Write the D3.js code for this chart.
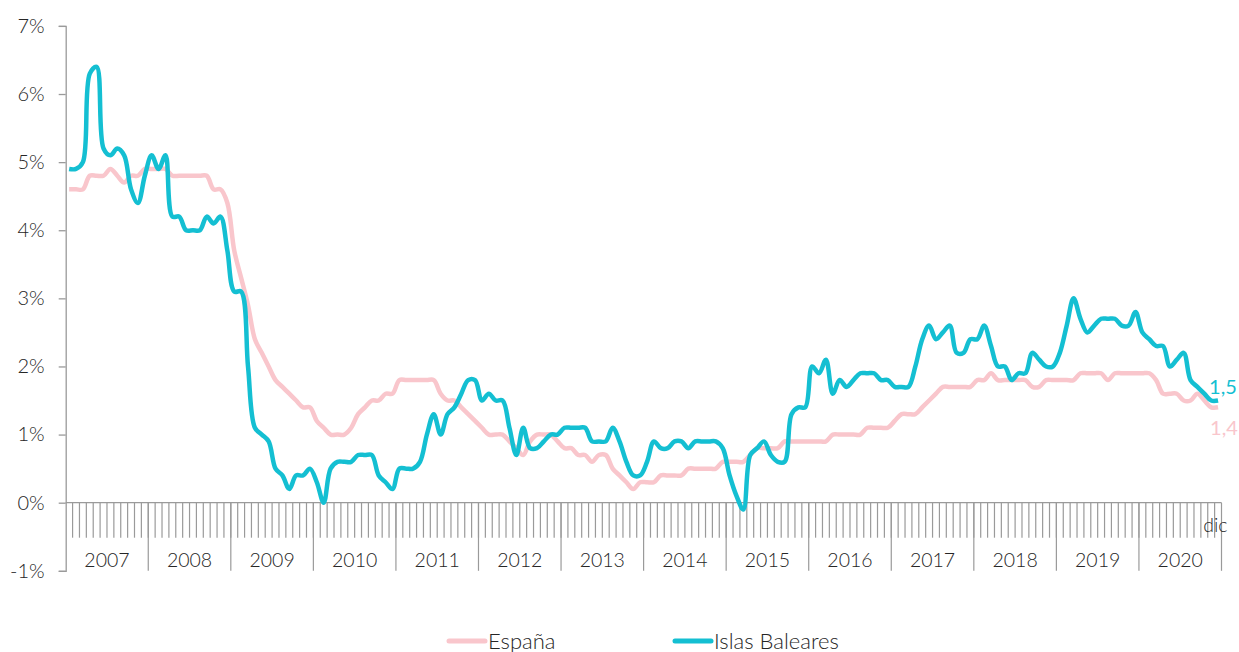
<!DOCTYPE html>
<html>
<head>
<meta charset="utf-8">
<script src="https://cdn.jsdelivr.net/npm/d3@7"></script>
<style>
  html, body { margin: 0; padding: 0; background: #fff; }
  svg { display: block; font-family: Lato, "Open Sans", sans-serif; font-weight: 300; }
</style>
</head>
<body>
<svg id="chart" width="1239" height="652"></svg>
<script>
const years = ["2007","2008","2009","2010","2011","2012","2013","2014","2015","2016","2017","2018","2019","2020"];
const yTicks = [-1, 0, 1, 2, 3, 4, 5, 6, 7];
const lastMonthLabel = "dic";
const seriesNames = ["España", "Islas Baleares"];
const endLabels = ["1,4", "1,5"];

const espana = [
  4.6,4.6,4.6,4.8,4.8,4.8,4.9,4.8,4.7,4.8,4.8,4.9,
  4.9,4.9,4.9,4.8,4.8,4.8,4.8,4.8,4.8,4.6,4.6,4.4,
  3.7,3.3,2.9,2.4,2.2,2.0,1.8,1.7,1.6,1.5,1.4,1.4,
  1.2,1.1,1.0,1.0,1.0,1.1,1.3,1.4,1.5,1.5,1.6,1.6,
  1.8,1.8,1.8,1.8,1.8,1.8,1.6,1.5,1.5,1.4,1.3,1.2,
  1.1,1.0,1.0,1.0,0.9,0.8,0.7,0.9,1.0,1.0,1.0,0.9,
  0.8,0.8,0.7,0.7,0.6,0.7,0.7,0.5,0.4,0.3,0.2,0.3,
  0.3,0.3,0.4,0.4,0.4,0.4,0.5,0.5,0.5,0.5,0.5,0.6,
  0.6,0.6,0.6,0.7,0.8,0.8,0.8,0.8,0.9,0.9,0.9,0.9,
  0.9,0.9,0.9,1.0,1.0,1.0,1.0,1.0,1.1,1.1,1.1,1.1,
  1.2,1.3,1.3,1.3,1.4,1.5,1.6,1.7,1.7,1.7,1.7,1.7,
  1.8,1.8,1.9,1.8,1.8,1.8,1.8,1.8,1.7,1.7,1.8,1.8,
  1.8,1.8,1.8,1.9,1.9,1.9,1.9,1.8,1.9,1.9,1.9,1.9,
  1.9,1.9,1.8,1.6,1.6,1.6,1.5,1.5,1.6,1.5,1.4,1.4
];
const baleares = [
  4.9,4.9,5.0,6.3,6.4,5.2,5.1,5.2,5.1,4.6,4.4,4.8,
  5.1,4.9,5.1,4.2,4.2,4.0,4.0,4.0,4.2,4.1,4.2,3.7,
  3.1,3.1,2.0,1.1,1.0,0.9,0.5,0.4,0.2,0.4,0.4,0.5,
  0.3,0.0,0.5,0.6,0.6,0.6,0.7,0.7,0.7,0.4,0.3,0.2,
  0.5,0.5,0.5,0.6,1.0,1.3,1.0,1.3,1.4,1.6,1.8,1.8,
  1.5,1.6,1.5,1.5,1.1,0.7,1.1,0.8,0.8,0.9,1.0,1.0,
  1.1,1.1,1.1,1.1,0.9,0.9,0.9,1.1,0.9,0.6,0.4,0.4,
  0.6,0.9,0.8,0.8,0.9,0.9,0.8,0.9,0.9,0.9,0.9,0.8,
  0.4,0.1,-0.1,0.7,0.8,0.9,0.7,0.6,0.6,1.3,1.4,1.4,
  2.0,1.9,2.1,1.6,1.8,1.7,1.8,1.9,1.9,1.9,1.8,1.8,
  1.7,1.7,1.7,2.0,2.4,2.6,2.4,2.5,2.6,2.2,2.2,2.4,
  2.4,2.6,2.3,2.0,2.0,1.8,1.9,1.9,2.2,2.1,2.0,2.0,
  2.2,2.6,3.0,2.7,2.5,2.6,2.7,2.7,2.7,2.6,2.6,2.8,
  2.5,2.4,2.3,2.3,2.0,2.1,2.2,1.8,1.7,1.6,1.5,1.5
];

const colors = { espana: "#f9c6cc", baleares: "#14bfd2" };
const textColor = "#262626";
const axisColor = "#9a9a9a";

const svg = d3.select("#chart");
const left = 65.7, right = 1221.5;
const months = d3.range(espana.length);

const x = d3.scaleBand().domain(months).range([left, right]).paddingInner(0).paddingOuter(0);
const y = d3.scaleLinear().domain([-1, 7]).range([570.8, 25.9]);
const cx = i => x(i) + x.bandwidth() / 2;

// y axis
const yAxis = d3.axisLeft(y).tickValues(yTicks).tickSize(7).tickPadding(14)
  .tickFormat(d => d + "%");
const gy = svg.append("g").attr("transform", `translate(${left},0)`).call(yAxis);
gy.select(".domain").attr("stroke", axisColor).attr("stroke-width", 1.3);
gy.selectAll(".tick line").attr("stroke", axisColor).attr("stroke-width", 1.3);
gy.selectAll(".tick text").attr("fill", textColor).style("font-size", "20px")
  .style("font-family", "Lato, sans-serif").style("font-weight", 300);

// x axis baseline at 0
const y0 = y(0);
svg.append("line").attr("x1", left).attr("x2", right).attr("y1", y0).attr("y2", y0)
  .attr("stroke", axisColor).attr("stroke-width", 1.3);

// monthly ticks
svg.append("g").selectAll("line.m").data(months.slice(1)).join("line")
  .attr("x1", d => x(d)).attr("x2", d => x(d))
  .attr("y1", y0).attr("y2", y0 + 35)
  .attr("stroke", axisColor).attr("stroke-width", 1.2);
svg.append("line").attr("x1", right).attr("x2", right).attr("y1", y0).attr("y2", y(-1))
  .attr("stroke", axisColor).attr("stroke-width", 1.2);

// year separators
const yearStarts = years.map((yr, k) => k * 12);
svg.append("g").selectAll("line.y").data(yearStarts.slice(1)).join("line")
  .attr("x1", d => x(d)).attr("x2", d => x(d))
  .attr("y1", y0).attr("y2", y(-1))
  .attr("stroke", axisColor).attr("stroke-width", 1.2);

// year labels
svg.append("g").selectAll("text").data(years).join("text")
  .attr("x", (d, k) => (x(k * 12) + x(k * 12 + 11) + x.bandwidth()) / 2)
  .attr("y", 567)
  .attr("text-anchor", "middle")
  .attr("fill", textColor).style("font-size", "19.5px")
  .text(d => d);

// "dic" label
svg.append("text").attr("x", right + 6).attr("y", 532).attr("text-anchor", "end")
  .attr("fill", textColor).style("font-size", "19.5px").text(lastMonthLabel);

// lines
const line = d3.line().x((d, i) => cx(i)).y(d => y(d)).curve(d3.curveCatmullRom.alpha(0.5));
svg.append("path").datum(espana).attr("d", line).attr("fill", "none")
  .attr("stroke", colors.espana).attr("stroke-width", 4.5).attr("stroke-linejoin", "round");
svg.append("path").datum(baleares).attr("d", line).attr("fill", "none")
  .attr("stroke", colors.baleares).attr("stroke-width", 4.5).attr("stroke-linejoin", "round");

// end labels
const lastI = espana.length - 1;
svg.append("text").attr("x", cx(lastI) - 9).attr("y", y(baleares[lastI]) - 7)
  .attr("fill", colors.baleares).style("font-size", "20px").style("font-weight", 400).text(endLabels[1]);
svg.append("text").attr("x", cx(lastI) - 8).attr("y", y(espana[lastI]) + 28)
  .attr("fill", colors.espana).style("font-size", "20px").style("font-weight", 400).text(endLabels[0]);

// legend
const legend = [
  { name: seriesNames[0], color: colors.espana, x: 449 },
  { name: seriesNames[1], color: colors.baleares, x: 675 }
];
const lg = svg.append("g").selectAll("g").data(legend).join("g")
  .attr("transform", d => `translate(${d.x},641)`);
lg.append("line").attr("x1", 0).attr("x2", 36).attr("y1", 0).attr("y2", 0)
  .attr("stroke", d => d.color).attr("stroke-width", 5).attr("stroke-linecap", "round");
lg.append("text").attr("x", 39).attr("y", 7.5).attr("fill", textColor)
  .style("font-size", "22px").text(d => d.name);
</script>
</body>
</html>
